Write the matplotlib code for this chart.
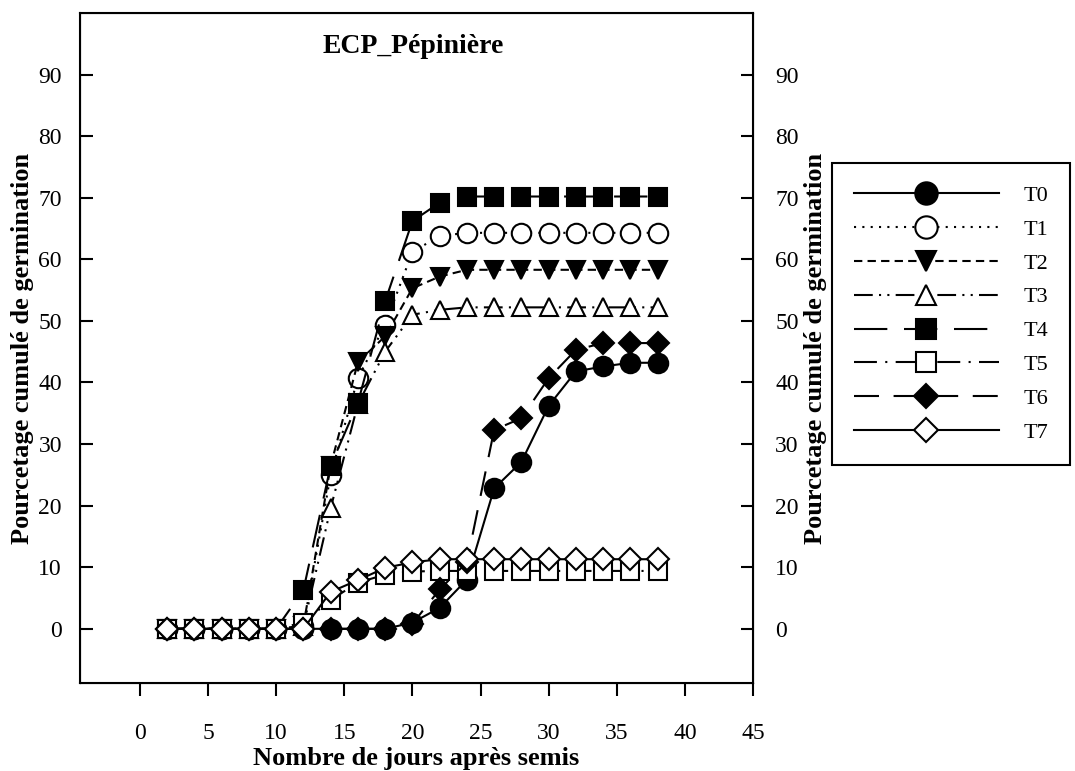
import numpy as np
import matplotlib
matplotlib.use("Agg")
import matplotlib.pyplot as plt

plt.rcParams['font.family'] = ['Liberation Serif', 'DejaVu Serif']

# jours apres semis
jours = [2, 4, 6, 8, 10, 12, 14, 16, 18, 20, 22, 24, 26, 28, 30, 32, 34, 36, 38]

T0 = [0, 0, 0, 0, 0, 0, 0, 0, 0, 1.0, 3.4, 8.0, 22.8, 27.1, 36.2, 41.8, 42.6, 43.2, 43.2]
T1 = [0, 0, 0, 0, 0, 0.5, 25.0, 40.7, 49.4, 61.2, 63.8, 64.3, 64.3, 64.3, 64.3, 64.3, 64.3, 64.3, 64.3]
T2 = [0, 0, 0, 0, 0, 0.5, 26.5, 43.3, 47.5, 55.3, 57.2, 58.3, 58.3, 58.3, 58.3, 58.3, 58.3, 58.3, 58.3]
T3 = [0, 0, 0, 0, 0, 0.5, 19.6, 36.5, 45.0, 51.0, 51.8, 52.2, 52.2, 52.2, 52.2, 52.2, 52.2, 52.2, 52.2]
T4 = [0, 0, 0, 0, 0, 6.3, 26.5, 36.7, 53.2, 66.2, 69.2, 70.2, 70.2, 70.2, 70.2, 70.2, 70.2, 70.2, 70.2]
T5 = [0, 0, 0, 0, 0, 1.0, 4.7, 7.5, 8.8, 9.3, 9.4, 9.4, 9.4, 9.4, 9.4, 9.4, 9.4, 9.4, 9.4]
T6 = [0, 0, 0, 0, 0, 0, 0, 0, 0, 0.8, 6.4, 10.8, 32.3, 34.2, 40.7, 45.3, 46.4, 46.4, 46.4]
T7 = [0, 0, 0, 0, 0, 0, 6.0, 7.9, 9.9, 10.8, 11.3, 11.3, 11.3, 11.3, 11.3, 11.3, 11.3, 11.3, 11.3]

noms = ['T0', 'T1', 'T2', 'T3', 'T4', 'T5', 'T6', 'T7']
series = [T0, T1, T2, T3, T4, T5, T6, T7]
marqueurs = ['o', 'o', 'v', '^', 's', 's', 'D', 'D']
remplis = [True, False, True, False, True, False, True, False]
styles = ['-', (0, (1, 3)), (0, (4, 2.5)), (0, (9, 3, 1, 3, 1, 3)),
          (0, (16, 8)), (0, (11, 4, 1, 4)), (0, (12, 7)), '-']
tailles = {'o': 14, 'v': 13, '^': 13, 's': 13, 'D': 11}

fig = plt.figure(figsize=(10.75, 7.71), dpi=100)
ax = fig.add_axes([80 / 1075, 1 - 683 / 771, 673 / 1075, 670 / 771])

for nom, y, m, f, ls in zip(noms, series, marqueurs, remplis, styles):
    ax.plot(jours, y, linestyle=ls, color='black', lw=1.5, marker=m,
            markersize=tailles[m], markerfacecolor='black' if f else 'white',
            markeredgecolor='black', markeredgewidth=1.5, label=nom)

ax.set_xlim(-4.4, 45)
ax.set_ylim(-8.8, 100)
ax.set_xticks(np.arange(0, 46, 5))
ax.set_yticks(np.arange(0, 91, 10))
for s in ax.spines.values():
    s.set_linewidth(1.5)

ax.tick_params(axis='x', direction='out', length=9, width=1.5, pad=20, labelsize=17)
ax.tick_params(axis='y', direction='in', length=9, width=1.5, pad=13, labelsize=17)

ax2 = ax.twinx()
ax2.set_ylim(-8.8, 100)
ax2.set_yticks(np.arange(0, 91, 10))
ax2.tick_params(axis='y', direction='in', length=9, width=1.5, pad=16, labelsize=17)

ax.set_xlabel('Nombre de jours après semis', fontsize=19, fontweight='bold', labelpad=2)
ax.set_ylabel('Pourcetage cumulé de germination', fontsize=19, fontweight='bold', labelpad=3)
ax2.set_ylabel('Pourcetage cumulé de germination', fontsize=19, fontweight='bold', labelpad=4)

ax.text(0.495, 0.95, 'ECP_Pépinière', transform=ax.transAxes, ha='center', va='center',
        fontsize=20, fontweight='bold')

leg = fig.legend(loc='upper left', bbox_to_anchor=(832 / 1075, 1 - 163 / 771),
                 borderaxespad=0, fontsize=16, handlelength=6.5, labelspacing=0.6,
                 handletextpad=1.1, borderpad=1.0, fancybox=False, framealpha=1,
                 edgecolor='black', markerscale=1.15)
leg.get_frame().set_linewidth(1.5)

fig.savefig('out.png', dpi=100)
